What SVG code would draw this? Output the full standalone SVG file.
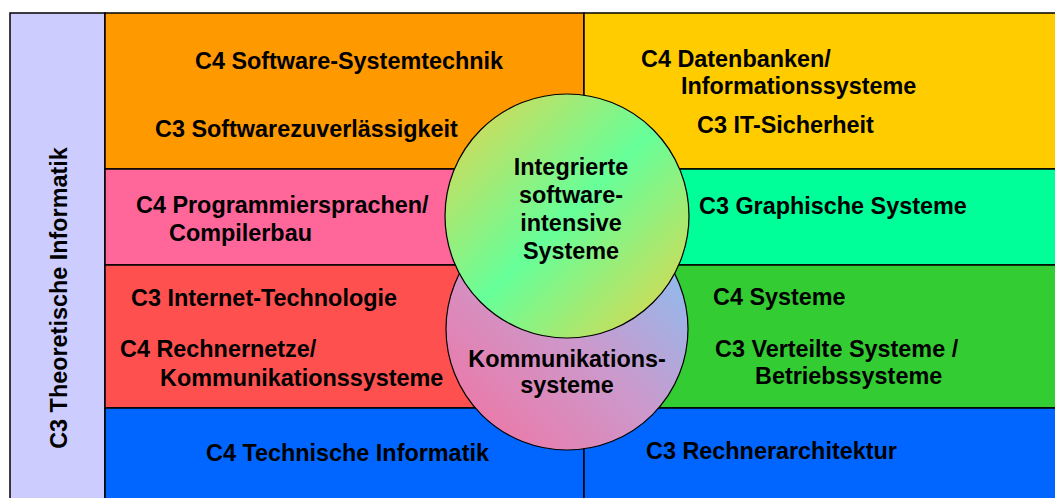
<svg xmlns="http://www.w3.org/2000/svg" width="1055" height="498" viewBox="0 0 1055 498">
<style>
  text { font-family: "Liberation Sans", Arial, sans-serif; font-weight: bold; font-size: 23.4px; fill: #000; }
  .cell { stroke: #000; stroke-width: 1.5; }
  .circ { stroke: #000; stroke-width: 1.2; }
  .mid { text-anchor: middle; }
</style>
<defs>
  <linearGradient id="gTop" x1="0" y1="0" x2="1" y2="1">
    <stop offset="0" stop-color="#E8D24C"/>
    <stop offset="0.5" stop-color="#66FF99"/>
    <stop offset="1" stop-color="#EAD246"/>
  </linearGradient>
  <linearGradient id="gBot" x1="0" y1="1" x2="1" y2="0">
    <stop offset="0" stop-color="#F4709E"/>
    <stop offset="0.5" stop-color="#CC99CC"/>
    <stop offset="1" stop-color="#78C8FA"/>
  </linearGradient>
</defs>
<rect width="1055" height="498" fill="#FFFFFF"/>

<g id="theoretische">
  <rect class="cell" x="10" y="13" width="95" height="490" fill="#CCCCFF"/>
  <text class="mid" transform="translate(67,298) rotate(-90)">C3 Theoretische Informatik</text>
</g>

<g id="software-systemtechnik">
  <rect class="cell" x="105" y="13" width="479" height="156" fill="#FF9900"/>
  <text x="195" y="69">C4 Software-Systemtechnik</text>
  <text x="155" y="137">C3 Softwarezuverlässigkeit</text>
</g>

<g id="datenbanken">
  <rect class="cell" x="584" y="13" width="480" height="156" fill="#FFCC00"/>
  <text x="641" y="67">C4 Datenbanken/</text>
  <text x="681" y="94">Informationssysteme</text>
  <text x="697" y="133">C3 IT-Sicherheit</text>
</g>

<g id="programmiersprachen">
  <rect class="cell" x="105" y="169" width="479" height="96" fill="#FF6699"/>
  <text x="136" y="213">C4 Programmiersprachen/</text>
  <text x="169" y="241">Compilerbau</text>
</g>

<g id="graphische">
  <rect class="cell" x="584" y="169" width="480" height="96" fill="#00FF99"/>
  <text x="699" y="214">C3 Graphische Systeme</text>
</g>

<g id="rechnernetze">
  <rect class="cell" x="105" y="265" width="479" height="143" fill="#FF5050"/>
  <text x="131" y="306">C3 Internet-Technologie</text>
  <text x="120" y="357">C4 Rechnernetze/</text>
  <text x="160" y="386">Kommunikationssysteme</text>
</g>

<g id="systeme">
  <rect class="cell" x="584" y="265" width="480" height="143" fill="#33CC33"/>
  <text x="713" y="305">C4 Systeme</text>
  <text x="715" y="357">C3 Verteilte Systeme /</text>
  <text x="755" y="384">Betriebssysteme</text>
</g>

<g id="technische">
  <rect class="cell" x="105" y="408" width="479" height="100" fill="#0066FF"/>
  <text x="206" y="461">C4 Technische Informatik</text>
</g>

<g id="rechnerarchitektur">
  <rect class="cell" x="584" y="408" width="480" height="100" fill="#0066FF"/>
  <text x="646" y="459">C3 Rechnerarchitektur</text>
</g>

<g id="kommunikationssysteme">
  <circle class="circ" cx="567" cy="329" r="121" fill="url(#gBot)"/>
  <text class="mid" x="567" y="367">Kommunikations-</text>
  <text class="mid" x="567" y="393">systeme</text>
</g>

<g id="integrierte">
  <circle class="circ" cx="567" cy="216" r="122" fill="url(#gTop)"/>
  <text class="mid" x="571" y="175">Integrierte</text>
  <text class="mid" x="571" y="203">software-</text>
  <text class="mid" x="571" y="231">intensive</text>
  <text class="mid" x="571" y="259">Systeme</text>
</g>

<g id="connectors"></g>
</svg>
